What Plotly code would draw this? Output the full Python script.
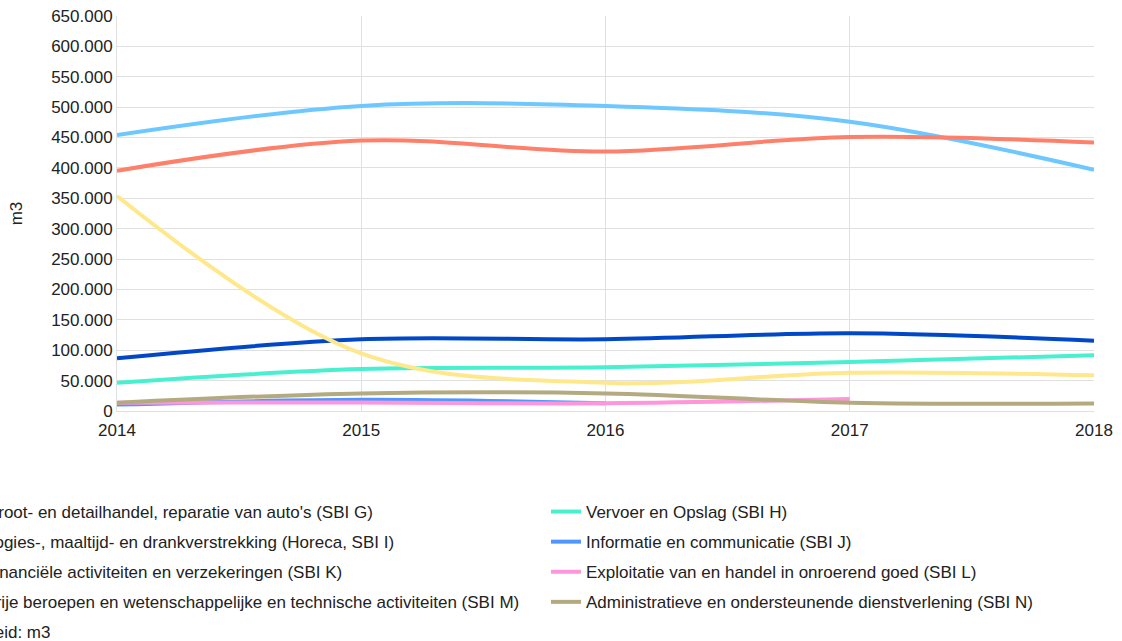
import plotly.graph_objects as go

years = [2014, 2015, 2016, 2017, 2018]

names_left = [
    "Groot- en detailhandel, reparatie van auto's (SBI G)",
    "Logies-, maaltijd- en drankverstrekking (Horeca, SBI I)",
    "Financiële activiteiten en verzekeringen (SBI K)",
    "Vrije beroepen en wetenschappelijke en technische activiteiten (SBI M)",
]
names_right = [
    "Vervoer en Opslag (SBI H)",
    "Informatie en communicatie (SBI J)",
    "Exploitatie van en handel in onroerend goed (SBI L)",
    "Administratieve en ondersteunende dienstverlening (SBI N)",
]

sbi_g = [454000, 502000, 502000, 476000, 397000]
sbi_h = [46600, 69000, 72000, 80600, 91700]
sbi_i = [395400, 445000, 427000, 451000, 442000]
sbi_j = [10500, 18500, 12700, None, None]
sbi_k = [86700, 118000, 118000, 128000, 115700]
sbi_l = [13700, 14000, 12700, 19700, None]
sbi_m = [353800, 95000, 46600, 63000, 58700]
sbi_n = [13700, 29000, 29000, 13700, 12300]

series = [
    (names_left[0], sbi_g, "rgb(110,200,255)", "legend"),
    (names_right[0], sbi_h, "rgb(72,240,208)", "legend2"),
    (names_left[1], sbi_i, "rgb(255,128,106)", "legend"),
    (names_right[1], sbi_j, "rgb(80,150,255)", "legend2"),
    (names_left[2], sbi_k, "rgb(0,72,200)", "legend"),
    (names_right[2], sbi_l, "rgb(255,150,220)", "legend2"),
    (names_left[3], sbi_m, "rgb(255,232,140)", "legend"),
    (names_right[3], sbi_n, "rgb(180,170,128)", "legend2"),
]

FONT = "Liberation Sans, Arial, sans-serif"

fig = go.Figure()
for i, (name, vals, color, leg) in enumerate(series):
    fig.add_trace(go.Scatter(
        x=years, y=vals, name=name, mode="lines",
        line=dict(color=color, width=4, shape="spline", smoothing=1),
        legend=leg, legendgroup=f"g{i}", connectgaps=False,
    ))

W, H = 1122, 641
ml, mr, mt, mb = 117, 28, 16, 230
pw = W - ml - mr
ph = H - mt - mb

def px_x(p):
    return (p - ml) / pw

def px_y(p):
    return (H - mb - p) / ph

legend_common = dict(
    orientation="v", xanchor="left", yanchor="top",
    bgcolor="rgba(0,0,0,0)", borderwidth=0,
    font=dict(family=FONT, size=17, color="#222222"),
    tracegroupgap=5, traceorder="grouped",
)

fig.update_layout(
    width=W, height=H,
    margin=dict(l=ml, r=mr, t=mt, b=mb, autoexpand=False),
    paper_bgcolor="white", plot_bgcolor="white",
    separators=",.",
    font=dict(family=FONT, size=17, color="#222222"),
    showlegend=True,
    legend=dict(x=px_x(-55), y=px_y(494), **legend_common),
    legend2=dict(x=px_x(546), y=px_y(494), **legend_common),
    xaxis=dict(
        range=[2014, 2018], tickvals=years, ticktext=[str(y) for y in years],
        showgrid=True, gridcolor="#e0e0e0", gridwidth=1,
        zeroline=False, showline=True, linecolor="#e0e0e0", mirror=False,
        ticks="", ticklabelstandoff=4, ticklabeloverflow="allow",
        tickfont=dict(family=FONT, size=17, color="#222222"),
    ),
    yaxis=dict(
        range=[0, 650000], dtick=50000, tickformat=",d",
        showgrid=True, gridcolor="#e0e0e0", gridwidth=1,
        zeroline=False, showline=True, linecolor="#e0e0e0",
        ticks="", ticklabeloverflow="allow",
        tickfont=dict(family=FONT, size=17, color="#222222"),
        title=dict(text="m3", standoff=24, font=dict(family=FONT, size=17, color="#222222")),
    ),
    annotations=[dict(
        text="Eenheid: m3", xref="paper", yref="paper",
        x=px_x(-47), y=px_y(632), xanchor="left", yanchor="middle",
        showarrow=False, font=dict(family=FONT, size=17, color="#222222"),
    )],
)

fig.write_html(
    "out.html",
    config={"displayModeBar": False},
    post_script="document.body.style.margin='0px';document.body.style.overflow='hidden';",
)
